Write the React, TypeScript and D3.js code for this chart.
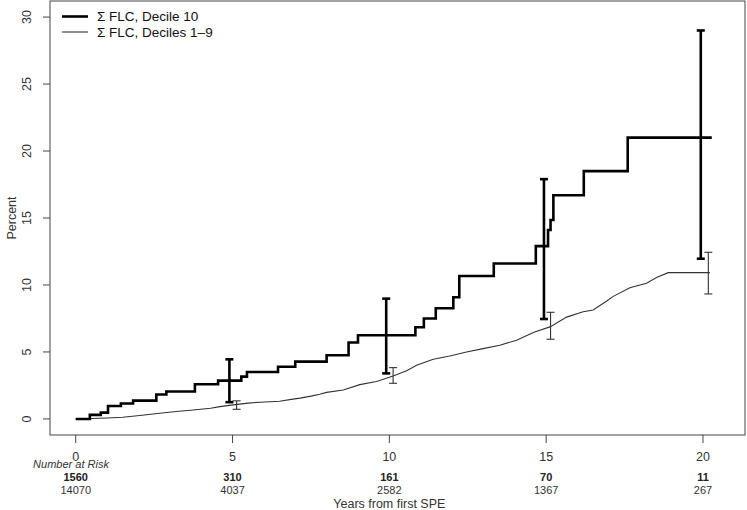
import React from "react";
import * as d3 from "d3";

const W = 747;
const H = 510;

// Decile 10 cumulative incidence (step function)
const d10Times = [0, 0.45, 0.8, 1.03, 1.44, 1.83, 2.57, 2.89, 3.8, 4.54, 5.28, 5.46, 6.45, 7.0, 8.0, 8.7, 9.0, 10.83, 11.1, 11.48, 12.04, 12.23, 13.33, 14.67, 15.06, 15.14, 15.23, 16.2, 17.6, 20.28];
const d10Values = [0, 0.3, 0.47, 0.97, 1.15, 1.37, 1.82, 2.05, 2.59, 2.86, 3.16, 3.5, 3.9, 4.28, 4.75, 5.7, 6.25, 6.84, 7.5, 8.26, 9.08, 10.67, 11.6, 12.9, 14.1, 14.85, 16.7, 18.5, 21.0, 21.0];

// Deciles 1-9 cumulative incidence
const d19Times = [0, 0.5, 1.0, 1.5, 2.04, 2.68, 3.2, 3.74, 4.3, 4.6, 5.02, 5.5, 5.87, 6.5, 6.93, 7.15, 7.5, 7.78, 8.0, 8.53, 9.06, 9.59, 10.12, 10.55, 10.87, 11.4, 11.93, 12.46, 12.99, 13.52, 14.06, 14.59, 15.14, 15.65, 16.18, 16.5, 16.93, 17.14, 17.67, 18.2, 18.52, 18.89, 20.22];
const d19Values = [0, 0.03, 0.07, 0.12, 0.25, 0.42, 0.55, 0.67, 0.8, 0.92, 1.05, 1.18, 1.25, 1.32, 1.48, 1.55, 1.7, 1.84, 1.98, 2.16, 2.56, 2.8, 3.2, 3.6, 4.0, 4.45, 4.7, 5.0, 5.25, 5.5, 5.88, 6.45, 6.89, 7.6, 8.0, 8.13, 8.8, 9.15, 9.8, 10.13, 10.55, 10.92, 10.92];

// Confidence intervals
const d10CiTimes = [4.9, 9.9, 14.93, 19.93];
const d10CiLow = [1.25, 3.4, 7.46, 11.96];
const d10CiHigh = [4.45, 8.98, 17.9, 29.0];
const d19CiTimes = [5.13, 10.12, 15.14, 20.17];
const d19CiLow = [0.72, 2.66, 5.95, 9.33];
const d19CiHigh = [1.35, 3.83, 7.96, 12.44];

const xTicks = [0, 5, 10, 15, 20];
const yTicks = [0, 5, 10, 15, 20, 25, 30];
const riskD10 = ["1560", "310", "161", "70", "11"];
const riskD19 = ["14070", "4037", "2582", "1367", "267"];

const legendLabels = ["\u03A3 FLC, Decile 10", "\u03A3 FLC, Deciles 1\u20139"];

const FONT = "'Liberation Sans', Arial, Helvetica, sans-serif";

export default function App() {
  const left = 50, right = 745, top = 1, bottom = 435;
  const x = d3.scaleLinear().domain([-0.82, 21.34]).range([left, right]);
  const y = d3.scaleLinear().domain([-1.2, 31.2]).range([bottom, top]);

  const stepLine = d3
    .line<[number, number]>()
    .x((d) => x(d[0]))
    .y((d) => y(d[1]))
    .curve(d3.curveStepAfter);
  const linLine = d3
    .line<[number, number]>()
    .x((d) => x(d[0]))
    .y((d) => y(d[1]));

  const d10: [number, number][] = d10Times.map((t, i) => [t, d10Values[i]]);
  const d19: [number, number][] = d19Times.map((t, i) => [t, d19Values[i]]);

  const capW = 4;

  return (
    <svg
      width={W}
      height={H}
      style={{ position: "absolute", left: 0, top: 0, background: "#fff" }}
      fontFamily={FONT}
    >
      <rect x={0} y={0} width={W} height={H} fill="#fff" />
      {/* frame */}
      <rect x={left} y={top} width={right - left} height={bottom - top} fill="none" stroke="#444" strokeWidth={1} />

      {/* y axis */}
      {yTicks.map((t) => (
        <g key={"y" + t}>
          <line x1={left} x2={left - 7} y1={y(t)} y2={y(t)} stroke="#444" />
          <text
            transform={`translate(${left - 19},${y(t)}) rotate(-90)`}
            textAnchor="middle"
            fontSize={12.5}
            fill="#333"
          >
            {t}
          </text>
        </g>
      ))}
      <text transform={`translate(12,${(top + bottom) / 2}) rotate(-90)`} textAnchor="middle" fontSize={12.5} fill="#333" dy="0.35em">
        Percent
      </text>

      {/* x axis */}
      {xTicks.map((t, i) => (
        <g key={"x" + t}>
          <line x1={x(t)} x2={x(t)} y1={bottom} y2={bottom + 8} stroke="#444" />
          <text x={x(t)} y={bottom + 26} textAnchor="middle" fontSize={12.5} fill="#333">
            {t}
          </text>
          <text x={x(t)} y={bottom + 46} textAnchor="middle" fontSize={11} fontWeight="bold" fill="#222">
            {riskD10[i]}
          </text>
          <text x={x(t)} y={bottom + 59} textAnchor="middle" fontSize={11} fill="#333">
            {riskD19[i]}
          </text>
        </g>
      ))}
      <text x={71} y={bottom + 33} textAnchor="middle" fontSize={11} fontStyle="italic" fill="#333">
        Number at Risk
      </text>
      <text x={(x(0) + x(20)) / 2} y={bottom + 73} textAnchor="middle" fontSize={12.5} fill="#333">
        Years from first SPE
      </text>

      {/* curves */}
      <path d={linLine(d19) || ""} fill="none" stroke="#333" strokeWidth={1.1} />
      <path d={stepLine(d10) || ""} fill="none" stroke="#000" strokeWidth={2.6} />

      {/* CIs */}
      {d19CiTimes.map((t, i) => (
        <g key={"c19" + i} stroke="#333" strokeWidth={1.1}>
          <line x1={x(t)} x2={x(t)} y1={y(d19CiLow[i])} y2={y(d19CiHigh[i])} />
          <line x1={x(t) - capW} x2={x(t) + capW} y1={y(d19CiLow[i])} y2={y(d19CiLow[i])} />
          <line x1={x(t) - capW} x2={x(t) + capW} y1={y(d19CiHigh[i])} y2={y(d19CiHigh[i])} />
        </g>
      ))}
      {d10CiTimes.map((t, i) => (
        <g key={"c10" + i} stroke="#000" strokeWidth={2.6}>
          <line x1={x(t)} x2={x(t)} y1={y(d10CiLow[i])} y2={y(d10CiHigh[i])} />
          <line x1={x(t) - capW} x2={x(t) + capW} y1={y(d10CiLow[i])} y2={y(d10CiLow[i])} />
          <line x1={x(t) - capW} x2={x(t) + capW} y1={y(d10CiHigh[i])} y2={y(d10CiHigh[i])} />
        </g>
      ))}

      {/* legend */}
      <line x1={62} x2={88} y1={16.5} y2={16.5} stroke="#000" strokeWidth={2.6} />
      <text x={97} y={16.5} dy="0.35em" fontSize={13.5} fill="#111">
        {legendLabels[0]}
      </text>
      <line x1={62} x2={88} y1={32} y2={32} stroke="#333" strokeWidth={1.1} />
      <text x={97} y={32} dy="0.35em" fontSize={13.5} fill="#111">
        {legendLabels[1]}
      </text>
    </svg>
  );
}
